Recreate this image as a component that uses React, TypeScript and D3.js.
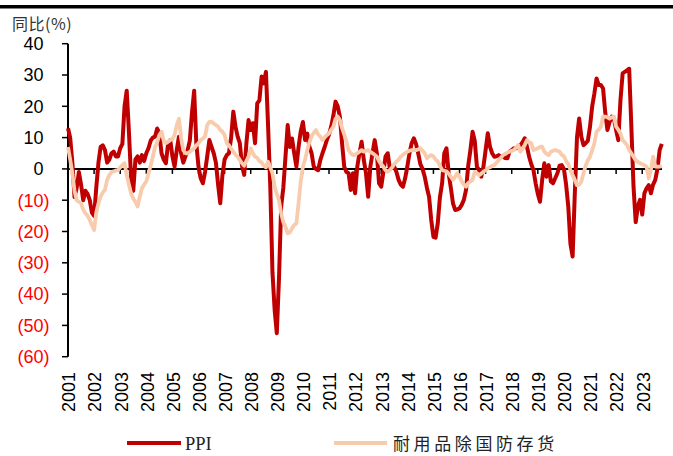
import React from 'react';
import * as d3 from 'd3';

// monthly YoY %, Jan 2001 - Oct 2023
const ppi = [
  13, 10, 2, -9, -6, -1, -5, -10, -7, -8, -10, -14,
  -15, -6, 2, 7, 7.5, 6, 2, 3, 5, 5.5, 4, 4,
  6.6, 8, 20, 25, 12, -3, -7, 3, 4, 2, 4.4, 2.5,
  5, 6.6, 9, 10, 10.3, 12.9, 11.4, 5, 3, 1.8, 8, 9.2,
  4, 0.7, 6, 10.3, 5, 2, 4, 6, 9, 18, 25, 8,
  0.7, -3, -4.6, -1, 4, 9.2, 7, 5, 2, -5, -11, -2,
  3, 4.4, 5, 10, 18.3, 13.5, 10.3, 8.2, 1, -1.9, 8, 15.6,
  12.4, 14.6, 8.2, 20.9, 21.9, 29.5, 27.3, 31, 13.5, -5.7, -33, -45,
  -52.5, -35, -12, -6, 4, 14, 7, 9.7, 5, 0.7, 7, 12,
  15, 9.2, 11.3, 7, 5, 0.7, 0, -0.4, 2.8, 5, 7, 9.2,
  11, 13.5, 17, 21.5, 20, 16.7, 8.2, 0.7, -1, -1.4, -6.7, -1.4,
  -7.8, 0.7, 5, 8.7, 2.8, -1.4, -8.9, 0.7, 5, 9.2, 5, -4.6,
  -5.7, -1, 4, 5, 0, 0.5, 0.7, -1, -3.5, -5, -5.7, -3,
  0.7, 5, 8.2, 9.8, 8, 5, 1.5, 0, -2.5, -6, -8.9, -16.3,
  -21.7, -22, -17.4, -9, -4.6, 5, 6.6, -1.4, -6, -11, -13.1, -13,
  -12.6, -11.5, -9.9, -6.7, 1, 6, 11.9, 9, 0.7, -0.4, -2.5, 0.7,
  6, 11.4, 7.1, 5, 3.9, 4, 4.4, 4, 3.9, 3.5, 3.4, 5.5,
  6, 6.6, 6.6, 7, 7.6, 8.5, 9.8, 7.1, 3.9, 1.5, -0.4, -4.6,
  -8, -10.5, -3.5, 1.8, -2.5, 1.2, -4, -4.6, -3, -1.4, 1, 1.2,
  0, -5, -12, -24, -28, -8, 10, 16.1, 10.3, 7.6, 8.2, 9,
  13.5, 20, 24.1, 28.9, 26.8, 26.8, 25.7, 18, 12.4, 15, 16.7, 16.1,
  12.4, 9.2, 22, 30.5, 31, 31.5, 32, 13.5, -5.7, -17, -12, -9.9,
  -14.6, -7.8, -6.2, -5.2, -7.8, -5, -3.5, 0, 6, 8,
];

const durables = [
  7, 3, -1.4, -7, -10, -10.5, -11, -13, -14.2, -15, -16.3, -18,
  -19.5, -14, -11, -8.9, -7.5, -6.7, -3.5, -2, -1, -0.8, -0.5, -0.4,
  0.5, 1.2, 1.8, -2, -5, -7.8, -9.5, -10.5, -12, -8.9, -6.2, -5,
  -4, -1.5, 1, 3.9, 7, 8.5, 10.8, 11.9, 9, 8.2, 8.7, 9.2,
  9.5, 10.8, 14, 16, 9.8, 6, 5, 5, 5.5, 6, 6.6, 7.5,
  8.2, 9.2, 9.7, 10.3, 14, 15, 15.1, 14.5, 14, 13.5, 12.4, 11.9,
  10.8, 8.2, 7.5, 6.5, 5.5, 4.5, 3.9, 2.8, 1.8, 1, 2.5, 3.9,
  6.6, 5, 3.9, 3.5, 2.5, 2, 1, 0.5, 2.3, 0.5, -1.4, -5.7,
  -8, -10, -14.2, -17, -18.5, -20.6, -20.3, -19, -17.9, -17.4, -11, -4,
  0.7, 3, 6, 8.5, 10.5, 11.5, 12.4, 11, 10.3, 9.2, 10, 10.8,
  11.3, 12.5, 13.5, 16, 16.7, 15.6, 13, 11, 8.7, 6, 5, 4.4,
  4.5, 5, 5.5, 6, 5.5, 5.8, 6, 5.5, 5, 4.5, 3.9, 2.5,
  1.5, 0.7, -0.4, -0.9, -0.4, 0.5, 1.5, 2.3, 3, 3.9, 4.5, 5,
  5.5, 5.8, 6, 6, 6, 6.2, 6.6, 5.8, 5, 3.4, 4, 4.4,
  4, 3, 2.3, 1, -0.4, -0.6, -0.8, -1.5, -2.5, -3.5, -2.5, -1.4,
  -2.5, -4, -5, -5.7, -4.5, -4, -3.5, -1, -1.4, -2, -1.5, -0.9,
  -0.5, 0.2, 0.5, 1, 1.2, 2, 2.8, 3.5, 4.4, 4.8, 5.2, 5.5,
  5.8, 6, 6.8, 7.6, 5.5, 6.5, 7.6, 9.2, 8.5, 8.2, 6, 6.3,
  6.6, 7, 7.1, 5.5, 4.8, 4.4, 5.5, 5.8, 6, 5.8, 5.5, 4.5,
  4, 2.5, 1.5, -0.4, -2, -3.5, -5.2, -5, -4.1, -1.4, 1, 2.8,
  3.9, 6, 8.2, 11.9, 12.5, 13.5, 16.7, 16.7, 16.5, 16.1, 16.5, 16.7,
  13.5, 12.5, 11.3, 9.2, 8.5, 7.6, 6, 5, 3.9, 2.8, 2.2, 1.8,
  1.5, 1.2, 0.7, -3, -0.4, 3.9, 0.7, 0.7, 0.7, 0.9,
];

const years = d3.range(2001, 2024);
const yTicks = [40, 30, 20, 10, 0, -10, -20, -30, -40, -50, -60];
const seriesNames = ['PPI', '耐用品除国防存货'];
const colors = ['#C00000', '#F8CBAD'];

const W = 673;
const H = 456;

const App = () => {
  const x = d3.scaleLinear().domain([0, ppi.length - 1]).range([68, 661.8]);
  const y = d3.scaleLinear().domain([-60, 40]).range([356.7, 43.7]);

  const line = d3.line<number>()
    .x((d, i) => x(i))
    .y(d => y(d));

  const fmt = (v: number) => (v < 0 ? `(${Math.abs(v)})` : `${v}`);
  const font = '"Liberation Sans", Arial, sans-serif';

  return (
    <div style={{ position: 'absolute', left: 0, top: 0 }}>
      <svg width={W} height={H} style={{ display: 'block', background: '#fff' }}>
        <rect x={0} y={5} width={W} height={3.5} fill='#000' />
        <text x={12} y={29.5} fontSize={16} letterSpacing={0.5} fill='#333' fontFamily='"Noto Sans CJK SC", sans-serif'>同比(%)</text>

        {/* y axis */}
        <line x1={68} x2={68} y1={y(40)} y2={y(-60)} stroke='#000' strokeWidth={2} />
        {yTicks.map(t => (
          <g key={t}>
            <line x1={62} x2={68} y1={y(t)} y2={y(t)} stroke='#000' strokeWidth={1.5} />
            <text
              x={t < 0 ? 49.5 : 43.5}
              y={y(t)}
              dy='0.35em'
              textAnchor='end'
              fontSize={18}
              fontFamily={font}
              fill={t < 0 ? '#FF0000' : '#000'}
            >
              {fmt(t)}
            </text>
          </g>
        ))}

        {/* x axis on zero */}
        <line x1={68} x2={662} y1={y(0)} y2={y(0)} stroke='#000' strokeWidth={2} />
        {years.map((yr, i) => {
          const xp = x(i * 12);
          return (
            <g key={yr}>
              {i > 0 && <line x1={xp} x2={xp} y1={y(0)} y2={y(0) + 5} stroke='#000' strokeWidth={1.5} />}
              <text
                transform={`translate(${xp + 1},372) rotate(-90)`}
                textAnchor='end'
                dy='0.35em'
                fontSize={18}
                fontFamily={font}
                fill='#000'
              >
                {yr}
              </text>
            </g>
          );
        })}

        <path d={line(ppi) || ''} fill='none' stroke={colors[0]} strokeWidth={4} strokeLinejoin='round' />
        <path d={line(durables) || ''} fill='none' stroke={colors[1]} strokeWidth={3.8} strokeLinejoin='round' />

        {/* legend */}
        <line x1={127} x2={181} y1={443} y2={443} stroke={colors[0]} strokeWidth={4} />
        <text x={185} y={449.5} fontSize={18.5} fill='#222' fontFamily='"Liberation Serif", "Times New Roman", serif'>{seriesNames[0]}</text>
        <line x1={334} x2={387} y1={443} y2={443} stroke={colors[1]} strokeWidth={4} />
        <text x={393} y={449.5} fontSize={17} letterSpacing={3.6} fill='#222' fontFamily='"Noto Sans CJK SC", sans-serif'>{seriesNames[1]}</text>
      </svg>
    </div>
  );
};

export default App;
